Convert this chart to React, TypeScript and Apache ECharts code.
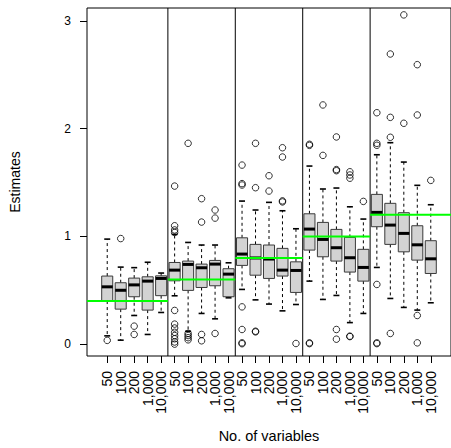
import React, { useEffect, useRef } from "react";
import * as echarts from "echarts";

// ---- data ----
const sampleSizes = ["50", "100", "200", "1,000", "10,000"];
const groupTruth = [0.4, 0.6, 0.8, 1.0, 1.2];
const tickLabels = [
  "50", "100", "200", "1,000", "10,000",
  "50", "100", "200", "1,000", "10,000",
  "50", "100", "200", "1,000", "10,000",
  "50", "100", "200", "1,000", "10,000",
  "50", "100", "200", "1,000", "10,000",
];
const lowWhisker = [
  0.077, 0.037, 0.266, 0.09, 0.294,
  0.449, 0.12, 0.285, 0.235, 0.43,
  0.508, 0.411, 0.372, 0.309, 0.368,
  0.585, 0.415, 0.452, 0.2, 0.285,
  0.712, 0.424, 0.341, 0.316, 0.384,
];
const q1 = [
  0.4, 0.325, 0.44, 0.316, 0.45,
  0.588, 0.499, 0.526, 0.542, 0.44,
  0.731, 0.64, 0.61, 0.632, 0.48,
  0.873, 0.811, 0.771, 0.669, 0.585,
  1.09, 0.926, 0.857, 0.78, 0.656,
];
const median = [
  0.532, 0.5, 0.55, 0.585, 0.61,
  0.687, 0.74, 0.709, 0.743, 0.65,
  0.836, 0.8, 0.79, 0.687, 0.684,
  1.068, 0.972, 0.895, 0.802, 0.712,
  1.223, 1.105, 1.028, 0.922, 0.792,
];
const q3 = [
  0.632, 0.57, 0.613, 0.625, 0.634,
  0.758, 0.771, 0.743, 0.777, 0.7,
  0.987, 0.926, 0.92, 0.889, 0.764,
  1.21, 1.13, 1.065, 0.991, 0.88,
  1.39, 1.307, 1.22, 1.099, 0.96,
];
const highWhisker = [
  0.975, 0.715, 0.71, 0.76, 0.66,
  1.019, 0.944, 0.92, 0.92, 0.755,
  1.328, 1.245, 1.316, 1.238, 1.071,
  1.653, 1.44, 1.449, 1.275, 1.161,
  1.758, 1.87, 1.69, 1.474, 1.294,
];
const outliers: number[][] = [
  [0.035],
  [0.98],
  [0.167, 0.09],
  [],
  [],
  [1.467, 1.099, 1.06, 1.037, 0.313, 0.186, 0.15, 0.11, 0.08, 0.05, 0.02, 0.0],
  [1.864, 0.1, 0.08, 0.06, 0.04],
  [1.35, 1.133, 0.09, 0.031],
  [1.245, 1.17, 0.099],
  [],
  [1.662, 1.49, 1.477, 0.346, 0.136, 0.012, 0.004],
  [1.864, 1.452, 0.12, 0.114],
  [1.563, 1.421],
  [1.823, 1.737, 1.33, 1.32],
  [0.006],
  [1.855, 1.845, 0.012, 0.005],
  [2.22, 1.752],
  [1.923, 1.62, 1.61, 0.136, 0.046],
  [1.6, 1.57, 1.54, 0.074, 0.07],
  [1.325],
  [2.148, 1.864, 1.846, 0.554, 0.012, 0.005],
  [2.693, 2.105, 1.92, 0.099],
  [3.056, 2.05],
  [2.594, 2.127, 0.266, 0.012],
  [1.52],
];
const yTicks = [0, 1, 2, 3];

const FONT = "'Liberation Sans', Arial, Helvetica, sans-serif";

export default function App() {
  const ref = useRef<HTMLDivElement>(null);

  useEffect(() => {
    if (!ref.current) return;
    const chart = echarts.init(ref.current, null, { renderer: "svg" });

    const nBox = tickLabels.length;
    const xMin = -1.5;
    const xMax = nBox - 1 + 1.5;
    const positions = tickLabels.map((_, i) => i);
    const labelPositions = [xMin, ...positions, xMax];
    const boxData = positions.map((i) => [i, lowWhisker[i], q1[i], median[i], q3[i], highWhisker[i]]);
    const outlierData = outliers.flatMap((arr, i) => arr.map((v) => [i, v]));
    const gs = sampleSizes.length;
    const sepData = groupTruth.slice(1).map((_, g) => [(g + 1) * gs - 0.5, 0]);
    const truthData = groupTruth.map((v, g) => [
      g === 0 ? xMin : g * gs - 0.5,
      g === groupTruth.length - 1 ? xMax : (g + 1) * gs - 0.5,
      v,
    ]);

    const option: any = {
      animation: false,
      textStyle: { fontFamily: FONT },
      grid: {
        left: 82,
        top: 8,
        width: 379,
        height: 348,
        show: true,
        borderColor: "#000",
        borderWidth: 1,
        backgroundColor: "transparent",
      },
      xAxis: {
        type: "value",
        min: xMin,
        max: xMax,
        name: "No. of variables",
        nameLocation: "middle",
        nameGap: 72,
        nameTextStyle: { fontSize: 14.5, color: "#000", fontFamily: FONT },
        axisLine: { show: false, onZero: false },
        splitLine: { show: false },
        axisTick: {
          show: true,
          customValues: positions,
          length: 7,
          lineStyle: { color: "#000", width: 1 },
        },
        axisLabel: {
          customValues: labelPositions,
          formatter: (v: number) =>
            Number.isInteger(v) ? tickLabels[v] ?? "" : "",
          rotate: 90,
          fontSize: 14,
          color: "#000",
          margin: 15,
          fontFamily: FONT,
          hideOverlap: false,
        },
      },
      yAxis: {
        type: "value",
        min: -0.11,
        max: 3.12,
        name: "Estimates",
        nameLocation: "middle",
        nameGap: 65,
        nameTextStyle: { fontSize: 14, color: "#000", fontFamily: FONT },
        axisLine: { show: false, onZero: false },
        splitLine: { show: false },
        axisTick: {
          show: true,
          customValues: yTicks,
          length: 7,
          lineStyle: { color: "#000", width: 1 },
        },
        axisLabel: {
          customValues: yTicks,
          fontSize: 12,
          color: "#000",
          margin: 16,
          fontFamily: FONT,
          showMinLabel: true,
          showMaxLabel: true,
        },
      },
      series: [
        {
          type: "custom",
          z: 2,
          clip: true,
          encode: { x: 0, y: [1, 2, 3, 4, 5] },
          data: boxData,
          renderItem: (params: any, api: any) => {
            const x = api.value(0);
            const pLo = api.coord([x, api.value(1)]);
            const pA = api.coord([x, api.value(2)]);
            const pM = api.coord([x, api.value(3)]);
            const pB = api.coord([x, api.value(4)]);
            const pHi = api.coord([x, api.value(5)]);
            const bw = api.size([0.82, 0])[0];
            const cx = pLo[0];
            const cap = bw * 0.27;
            const dashed = { stroke: "#000", lineWidth: 1, lineDash: [3, 3] };
            const solid = { stroke: "#000", lineWidth: 1.6 };
            return {
              type: "group",
              children: [
                { type: "line", shape: { x1: cx, y1: pB[1], x2: cx, y2: pHi[1] }, style: dashed },
                { type: "line", shape: { x1: cx, y1: pA[1], x2: cx, y2: pLo[1] }, style: dashed },
                { type: "line", shape: { x1: cx - cap, y1: pHi[1], x2: cx + cap, y2: pHi[1] }, style: solid },
                { type: "line", shape: { x1: cx - cap, y1: pLo[1], x2: cx + cap, y2: pLo[1] }, style: solid },
                {
                  type: "rect",
                  shape: { x: cx - bw / 2, y: pB[1], width: bw, height: pA[1] - pB[1] },
                  style: { fill: "#d3d3d3", stroke: "#3a3a3a", lineWidth: 1 },
                },
                {
                  type: "line",
                  shape: { x1: cx - bw / 2, y1: pM[1], x2: cx + bw / 2, y2: pM[1] },
                  style: { stroke: "#000", lineWidth: 3 },
                },
              ],
            };
          },
        },
        {
          type: "scatter",
          z: 3,
          data: outlierData,
          symbol: "circle",
          symbolSize: 6.5,
          itemStyle: { color: "transparent", borderColor: "#000", borderWidth: 1 },
        },
        {
          type: "custom",
          z: 4,
          clip: true,
          encode: { x: 0, y: 1 },
          data: sepData,
          renderItem: (params: any, api: any) => {
            const p = api.coord([api.value(0), 0]);
            const cs = params.coordSys;
            return {
              type: "line",
              shape: { x1: p[0], y1: cs.y, x2: p[0], y2: cs.y + cs.height },
              style: { stroke: "#000", lineWidth: 1 },
            };
          },
        },
        {
          type: "custom",
          z: 5,
          clip: true,
          encode: { x: [0, 1], y: 2 },
          data: truthData,
          renderItem: (params: any, api: any) => {
            const p1 = api.coord([api.value(0), api.value(2)]);
            const p2 = api.coord([api.value(1), api.value(2)]);
            return {
              type: "line",
              shape: { x1: p1[0], y1: p1[1], x2: p2[0], y2: p2[1] },
              style: { stroke: "#00ff00", lineWidth: 2 },
            };
          },
        },
      ],
    };

    chart.setOption(option);
    return () => chart.dispose();
  }, []);

  return (
    <div
      ref={ref}
      style={{ position: "fixed", left: 0, top: 0, width: 451, height: 448, background: "#fff" }}
    />
  );
}
